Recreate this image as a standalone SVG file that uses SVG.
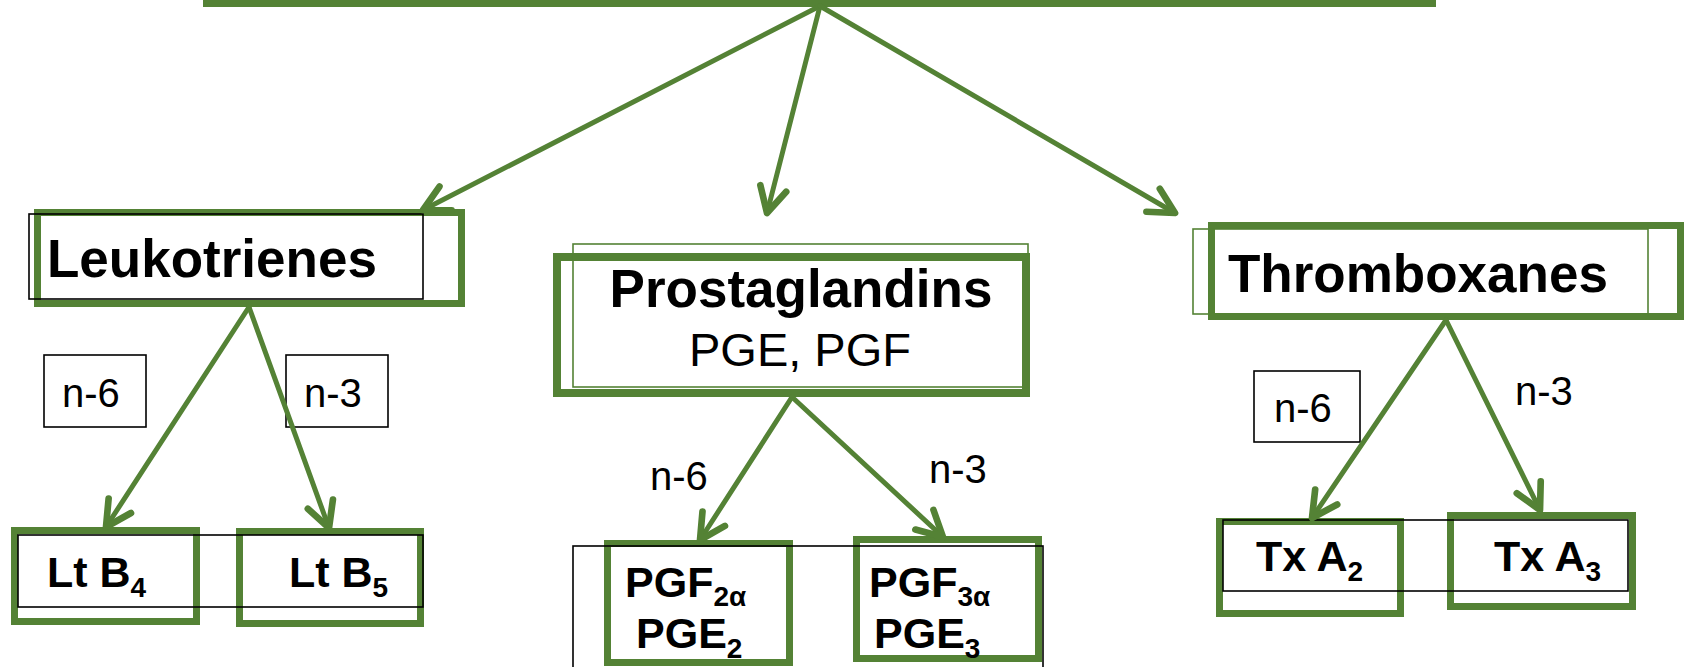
<svg xmlns="http://www.w3.org/2000/svg" width="1688" height="667" viewBox="0 0 1688 667">
<defs>
<style>
.g{fill:#ffffff;stroke:#548235;stroke-width:7}
.gt{fill:none;stroke:#548235;stroke-width:1.6}
.bk{fill:none;stroke:#000000;stroke-width:1.6}
.c{fill:none;stroke:#548235;stroke-width:5;stroke-linecap:round}
.t{font-family:"Liberation Sans",Arial,sans-serif;fill:#000000}
.b{font-weight:bold}
.big{font-size:53px}
.mid{font-size:43px}
.lab{font-size:40px}
.sub{font-size:28px}
</style>
<marker id="ah" markerUnits="userSpaceOnUse" markerWidth="40" markerHeight="40" viewBox="-25 -15 30 30" refX="0" refY="0" orient="auto" overflow="visible">
<path d="M-19,-10 L0,0 L-19,10" fill="none" stroke="#548235" stroke-width="5" stroke-linecap="round" stroke-linejoin="round"/>
</marker>
</defs>
<rect width="1688" height="667" fill="#ffffff"/>

<g id="top">
<rect x="203" y="0" width="1233" height="7" fill="#548235"/>
</g>

<g id="leukotrienes">
<rect class="g" x="37.5" y="212.5" width="424" height="91"/>
<rect class="bk" x="29" y="214" width="394" height="85"/>
<text class="t b big" x="47" y="277">Leukotrienes</text>
</g>

<g id="prostaglandins">
<rect class="g" x="557" y="257" width="469" height="136" style="stroke-width:8"/>
<rect class="gt" x="573" y="244" width="455" height="143"/>
<text class="t b big" x="801" y="307" text-anchor="middle">Prostaglandins</text>
<text class="t" x="800" y="366" font-size="47" text-anchor="middle">PGE, PGF</text>
</g>

<g id="thromboxanes">
<rect class="g" x="1211.5" y="225.5" width="469" height="91"/>
<rect class="gt" x="1193" y="229" width="455" height="85"/>
<text class="t b big" x="1228" y="292">Thromboxanes</text>
</g>

<g id="label-lt-n6">
<rect class="bk" x="44" y="355" width="102" height="72"/>
<text class="t lab" x="62" y="407">n-6</text>
</g>
<g id="label-lt-n3">
<rect class="bk" x="286" y="355" width="102" height="72"/>
<text class="t lab" x="304" y="407">n-3</text>
</g>
<g id="label-pg-n6">
<text class="t lab" x="650" y="490">n-6</text>
</g>
<g id="label-pg-n3">
<text class="t lab" x="929" y="483">n-3</text>
</g>
<g id="label-tx-n6">
<rect class="bk" x="1254" y="371" width="106" height="71"/>
<text class="t lab" x="1274" y="422">n-6</text>
</g>
<g id="label-tx-n3">
<text class="t lab" x="1515" y="405">n-3</text>
</g>

<g id="ltb4">
<rect class="g" x="14.5" y="530.5" width="182" height="91"/>
<text class="t b mid" x="47" y="587">Lt B<tspan class="sub" dy="10">4</tspan></text>
</g>
<g id="ltb5">
<rect class="g" x="239.5" y="531.5" width="181" height="92"/>
<text class="t b mid" x="289" y="587">Lt B<tspan class="sub" dy="10">5</tspan></text>
</g>
<g id="ltb-frame">
<rect class="bk" x="18" y="535" width="405" height="72"/>
</g>

<g id="pgf2">
<rect class="g" x="607.5" y="543.5" width="182" height="119"/>
<text class="t b mid" x="625" y="597">PGF<tspan class="sub" dy="9">2α</tspan></text>
<text class="t b mid" x="636" y="648">PGE<tspan class="sub" dy="10">2</tspan></text>
</g>
<g id="pgf3">
<rect class="g" x="856.5" y="539.5" width="182" height="119"/>
<text class="t b mid" x="869" y="597">PGF<tspan class="sub" dy="9">3α</tspan></text>
<text class="t b mid" x="874" y="648">PGE<tspan class="sub" dy="10">3</tspan></text>
</g>
<g id="pg-frame">
<rect class="bk" x="573" y="546" width="470" height="130"/>
</g>

<g id="txa2">
<rect class="g" x="1219.5" y="521.5" width="181" height="92"/>
<text class="t b mid" x="1256" y="571">Tx A<tspan class="sub" dy="10">2</tspan></text>
</g>
<g id="txa3">
<rect class="g" x="1450.5" y="515.5" width="182" height="91"/>
<text class="t b mid" x="1494" y="571">Tx A<tspan class="sub" dy="10">3</tspan></text>
</g>
<g id="tx-frame">
<rect class="bk" x="1223" y="520" width="405" height="71"/>
</g>

<g id="connectors">
<line class="c" x1="820" y1="6" x2="423" y2="210" marker-end="url(#ah)"/>
<line class="c" x1="820" y1="6" x2="767" y2="213" marker-end="url(#ah)"/>
<line class="c" x1="820" y1="6" x2="1175" y2="213" marker-end="url(#ah)"/>
<line class="c" x1="249" y1="307" x2="106" y2="527" marker-end="url(#ah)"/>
<line class="c" x1="249" y1="307" x2="329" y2="528" marker-end="url(#ah)"/>
<line class="c" x1="792" y1="397" x2="700" y2="540" marker-end="url(#ah)"/>
<line class="c" x1="792" y1="397" x2="943" y2="537" marker-end="url(#ah)"/>
<line class="c" x1="1446" y1="320" x2="1312" y2="518" marker-end="url(#ah)"/>
<line class="c" x1="1446" y1="320" x2="1540" y2="510" marker-end="url(#ah)"/>
</g>
</svg>
